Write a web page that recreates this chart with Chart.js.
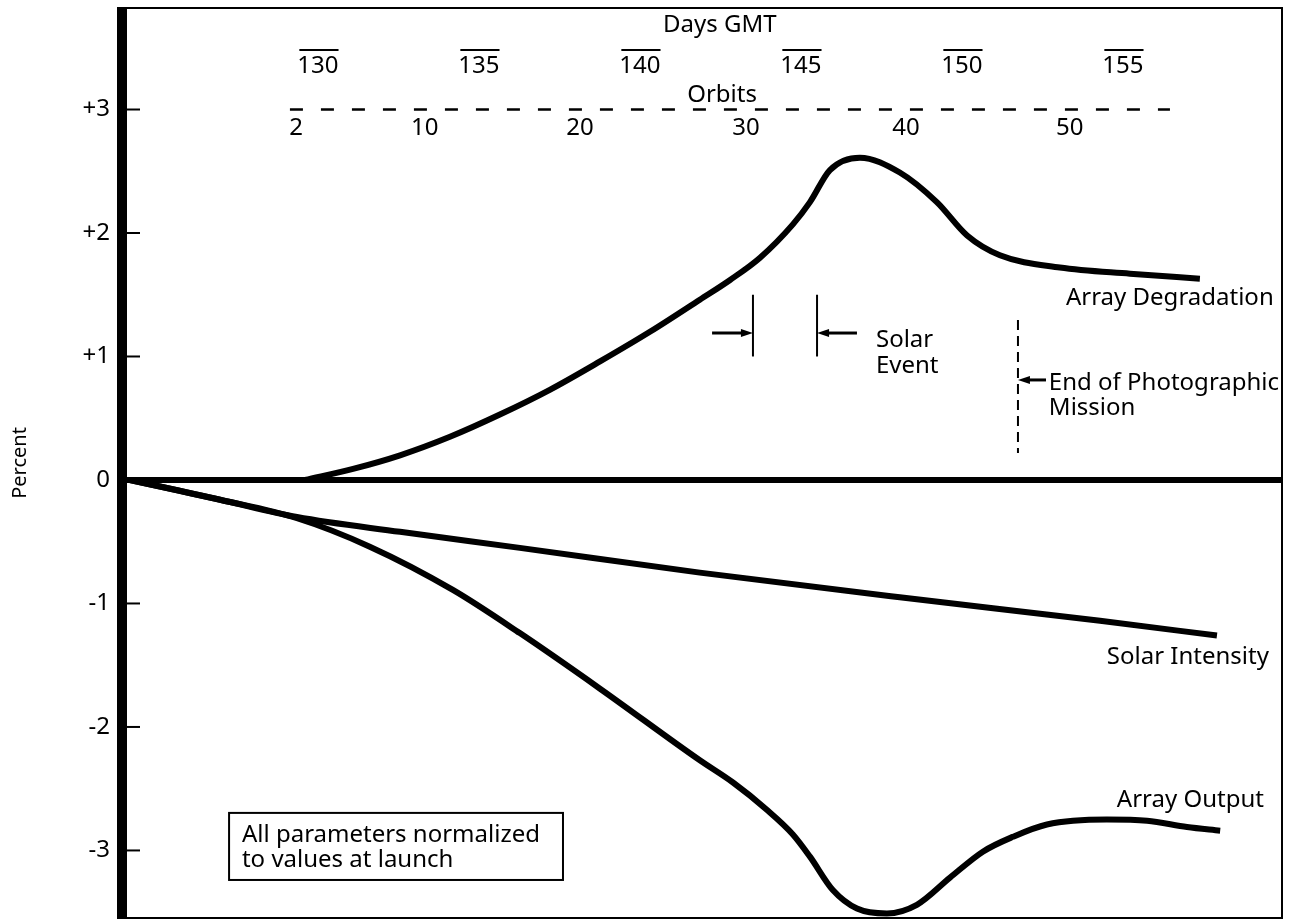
<!DOCTYPE html>
<html>
<head>
<meta charset="utf-8">
<title>Array degradation, solar intensity and array output</title>
<script src="https://cdn.jsdelivr.net/npm/chart.js@4.4.0/dist/chart.umd.min.js"></script>
<style>
  html, body { margin: 0; padding: 0; background: #fff; }
  canvas { display: block; }
</style>
</head>
<body>
<canvas id="chart" width="1289" height="922"></canvas>
<script>
// Values. x = day GMT, y = percent change from launch.
const degradationDays = [129.6, 131.09, 132.55, 134.1, 135.65, 137.2, 138.76, 140.31, 141.86, 142.8, 143.73, 144.75, 145.28, 145.9, 146.83, 148.07, 149.22, 150.16, 151.18, 153.04, 155.22, 157.39];
const degradationPct = [0, 0.09, 0.20, 0.35, 0.53, 0.73, 0.96, 1.20, 1.46, 1.62, 1.80, 2.07, 2.25, 2.51, 2.61, 2.49, 2.25, 1.98, 1.82, 1.72, 1.67, 1.63];

const intensityDays = [124.16, 126.96, 129.35, 132.55, 136.27, 141.86, 148.07, 154.29, 157.92];
const intensityPct = [0, -0.16, -0.30, -0.42, -0.55, -0.75, -0.95, -1.14, -1.26];

const outputDays = [124.16, 126.96, 129.35, 131.61, 134.19, 136.27, 138.76, 141.86, 142.89, 143.94, 144.75, 145.28, 145.99, 146.74, 147.67, 148.6, 149.63, 150.65, 151.58, 152.64, 154.5, 155.75, 156.99, 158.02];
const outputPct = [0, -0.16, -0.31, -0.54, -0.89, -1.24, -1.69, -2.27, -2.45, -2.67, -2.87, -3.05, -3.32, -3.47, -3.51, -3.44, -3.22, -3.01, -2.89, -2.79, -2.75, -2.76, -2.81, -2.84];

// top scale labels
const dayTicks = [130, 135, 140, 145, 150, 155];
const orbitTicks = [2, 10, 20, 30, 40, 50];
const orbitDays = [129.32, 133.32, 138.14, 143.29, 148.26, 153.35];
const yTicks = [3, 2, 1, -1, -2, -3];

// solar event and end of photographic mission (days)
const solarEventStart = 143.51;
const solarEventEnd = 145.5;
const photoMissionEnd = 151.74;

const FONT = '"Noto Sans", sans-serif';

function pts(xs, ys) {
  return xs.map((d, i) => ({ x: d, y: ys[i] }));
}

function arrow(ctx, x1, y1, x2, y2) {
  const dir = Math.sign(x2 - x1);
  ctx.beginPath();
  ctx.moveTo(x1, y1);
  ctx.lineTo(x2 - dir * 8, y2);
  ctx.stroke();
  ctx.beginPath();
  ctx.moveTo(x2, y2);
  ctx.lineTo(x2 - dir * 12, y2 - 4);
  ctx.lineTo(x2 - dir * 12, y2 + 4);
  ctx.closePath();
  ctx.fill();
}

const annotations = {
  id: 'annotations',
  beforeDatasetsDraw(chart) {
    const { ctx, chartArea: a, scales: { y } } = chart;
    ctx.save();
    ctx.fillStyle = '#000';
    ctx.strokeStyle = '#000';
    // heavy left axis
    ctx.fillRect(a.left - 10, a.top - 1, 10, a.bottom - a.top + 2);
    // frame
    ctx.lineWidth = 2;
    ctx.beginPath();
    ctx.moveTo(a.left - 10, a.top);
    ctx.lineTo(a.right, a.top);
    ctx.lineTo(a.right, a.bottom);
    ctx.lineTo(a.left - 10, a.bottom);
    ctx.stroke();
    // heavy zero line
    const y0 = y.getPixelForValue(0);
    ctx.lineWidth = 6;
    ctx.beginPath();
    ctx.moveTo(a.left - 10, y0);
    ctx.lineTo(a.right, y0);
    ctx.stroke();
    // inside tick marks
    ctx.lineWidth = 2;
    yTicks.forEach(v => {
      const py = y.getPixelForValue(v);
      ctx.beginPath();
      ctx.moveTo(a.left, py);
      ctx.lineTo(a.left + 13, py);
      ctx.stroke();
    });
    ctx.restore();
  },
  afterDatasetsDraw(chart) {
    const { ctx, scales: { x, y } } = chart;
    const px = d => x.getPixelForValue(d);
    const py = v => y.getPixelForValue(v);
    ctx.save();
    ctx.fillStyle = '#000';
    ctx.strokeStyle = '#000';
    ctx.font = '24px ' + FONT;
    ctx.textBaseline = 'alphabetic';

    // top scales
    ctx.textAlign = 'center';
    ctx.fillText('Days GMT', px(142.48), py(3.628));
    ctx.fillText('Orbits', px(142.55), py(3.061));
    ctx.lineWidth = 2;
    dayTicks.forEach(d => {
      const cx = px(d), by = py(3.296);
      const w = ctx.measureText(String(d)).width;
      ctx.fillText(String(d), cx, by);
      ctx.beginPath();
      ctx.moveTo(cx - w / 2 + 2, by - 23);
      ctx.lineTo(cx + w / 2, by - 23);
      ctx.stroke();
    });
    orbitTicks.forEach((o, i) => {
      ctx.fillText(String(o), px(orbitDays[i]), py(2.794));
    });
    ctx.lineWidth = 2.5;
    ctx.setLineDash([13, 18]);
    ctx.beginPath();
    ctx.moveTo(px(129.13), py(3));
    ctx.lineTo(px(156.46), py(3));
    ctx.stroke();
    ctx.setLineDash([]);

    // solar event bracket
    ctx.lineWidth = 2;
    [solarEventStart, solarEventEnd].forEach(d => {
      ctx.beginPath();
      ctx.moveTo(px(d), py(1.5));
      ctx.lineTo(px(d), py(1.0));
      ctx.stroke();
    });
    ctx.lineWidth = 3;
    arrow(ctx, px(142.24), py(1.19), px(solarEventStart), py(1.19));
    arrow(ctx, px(146.74), py(1.19), px(solarEventEnd), py(1.19));

    // end of photographic mission
    ctx.lineWidth = 2;
    ctx.setLineDash([10, 6]);
    ctx.beginPath();
    ctx.moveTo(px(photoMissionEnd), py(1.296));
    ctx.lineTo(px(photoMissionEnd), py(0.219));
    ctx.stroke();
    ctx.setLineDash([]);
    ctx.lineWidth = 3;
    arrow(ctx, px(152.61), py(0.81), px(photoMissionEnd), py(0.81));

    // curve and note labels
    ctx.textAlign = 'left';
    ctx.fillText('Array Degradation', px(153.23), py(1.417));
    ctx.fillText('Solar', px(147.33), py(1.077));
    ctx.fillText('Event', px(147.33), py(0.866));
    ctx.fillText('End of Photographic', px(152.7), py(0.729));
    ctx.fillText('Mission', px(152.7), py(0.526));
    ctx.fillText('Solar Intensity', px(154.5), py(-1.49));
    ctx.fillText('Array Output', px(154.81), py(-2.648));

    // note box
    ctx.lineWidth = 2;
    ctx.strokeRect(px(127.24), py(-2.696), px(137.61) - px(127.24), py(-3.239) - py(-2.696));
    ctx.fillText('All parameters normalized', px(127.64), py(-2.931));
    ctx.fillText('to values at launch', px(127.64), py(-3.134));
    ctx.restore();
  }
};

const lineStyle = {
  borderColor: '#000',
  borderWidth: 6,
  pointRadius: 0,
  fill: false,
  cubicInterpolationMode: 'monotone'
};

new Chart(document.getElementById('chart'), {
  type: 'line',
  data: {
    datasets: [
      { label: 'Array Degradation', data: pts(degradationDays, degradationPct), ...lineStyle },
      { label: 'Solar Intensity', data: pts(intensityDays, intensityPct), ...lineStyle },
      { label: 'Array Output', data: pts(outputDays, outputPct), ...lineStyle }
    ]
  },
  options: {
    responsive: false,
    devicePixelRatio: 1,
    animation: false,
    layout: { padding: { left: 0, top: 8, right: 7, bottom: 4 } },
    plugins: {
      legend: { display: false },
      tooltip: { enabled: false }
    },
    scales: {
      x: {
        type: 'linear',
        min: 124.07,
        max: 159.94,
        display: false
      },
      y: {
        min: -3.547,
        max: 3.822,
        afterFit(scale) {
          // keep the plot area flush with the frame
          scale.width = 127;
          scale.paddingTop = 0;
          scale.paddingBottom = 0;
        },
        grid: { display: false, drawTicks: false },
        border: { display: false },
        ticks: {
          stepSize: 1,
          includeBounds: false,
          padding: 17,
          color: '#000',
          font: { family: FONT, size: 24 },
          callback: v => (v > 0 ? '+' + v : String(v))
        },
        title: {
          display: true,
          text: 'Percent',
          color: '#000',
          font: { family: FONT, size: 20 },
          padding: { top: 8, bottom: 0 }
        }
      }
    }
  },
  plugins: [annotations]
});
</script>
</body>
</html>
